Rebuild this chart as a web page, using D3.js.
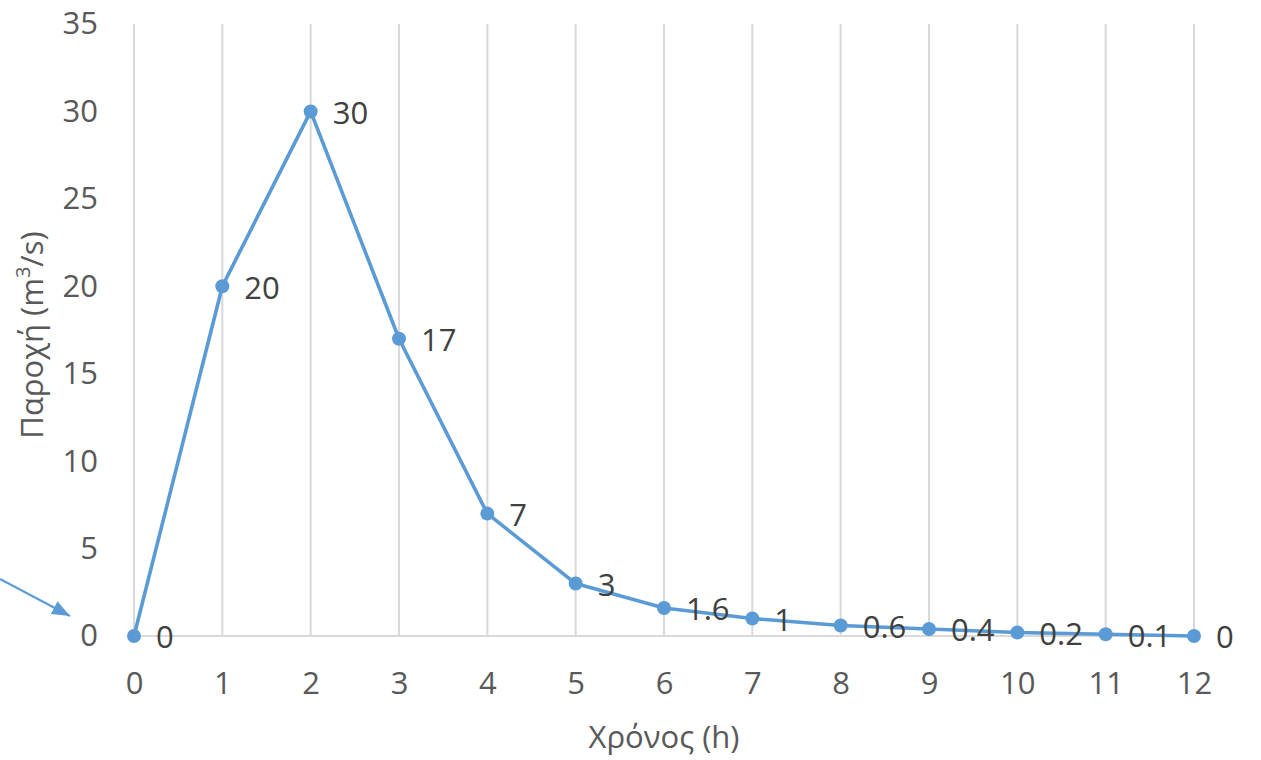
<!DOCTYPE html>
<html>
<head>
<meta charset="utf-8">
<script src="https://cdn.jsdelivr.net/npm/d3@7"></script>
<style>
  html, body { margin: 0; padding: 0; background: #fff; }
  svg text { font-family: "Open Sans", "DejaVu Sans", sans-serif; }
</style>
</head>
<body>
<svg id="chart" width="1261" height="760"></svg>
<script>
// Hydrograph: discharge over time
const hours = [0, 1, 2, 3, 4, 5, 6, 7, 8, 9, 10, 11, 12];
const discharge = [0, 20, 30, 17, 7, 3, 1.6, 1, 0.6, 0.4, 0.2, 0.1, 0];
const yTicks = [0, 5, 10, 15, 20, 25, 30, 35];
const xTitle = "Χρόνος (h)";
const yTitle = "Παροχή (m";

const svg = d3.select("#chart");
const margin = { left: 134, right: 67, top: 24, bottom: 124 };
const W = 1261, H = 760;
const FS = "31px";

const x = d3.scaleLinear().domain([0, 12]).range([margin.left, W - margin.right]);
const y = d3.scaleLinear().domain([0, 35]).range([H - margin.bottom, margin.top]);

const lineColor = "#5B9BD5";
const gridColor = "#D9D9D9";

// vertical gridlines
svg.append("g")
  .selectAll("line")
  .data(hours)
  .join("line")
  .attr("x1", d => x(d)).attr("x2", d => x(d))
  .attr("y1", y(35)).attr("y2", y(0))
  .attr("stroke", gridColor).attr("stroke-width", 2);

// baseline
svg.append("line")
  .attr("x1", x(0)).attr("x2", x(12))
  .attr("y1", y(0)).attr("y2", y(0))
  .attr("stroke", gridColor).attr("stroke-width", 2);

// x axis labels
const xAxis = d3.axisBottom(x).tickValues(hours).tickFormat(d3.format("d")).tickSize(0).tickPadding(36);
const gx = svg.append("g").attr("transform", `translate(0,${y(0)})`).call(xAxis);
gx.select(".domain").remove();
gx.selectAll("text").attr("fill", "#595959").style("font-size", FS)
  .style("font-family", '"Open Sans", sans-serif');

// y axis labels
const yAxis = d3.axisLeft(y).tickValues(yTicks).tickFormat(d3.format("d")).tickSize(0).tickPadding(36);
const gy = svg.append("g").attr("transform", `translate(${x(0)},0)`).call(yAxis);
gy.select(".domain").remove();
gy.selectAll("text").attr("fill", "#595959").style("font-size", FS)
  .style("font-family", '"Open Sans", sans-serif');

// data line
const pts = hours.map((h, i) => ({ h, v: discharge[i] }));
svg.append("path")
  .datum(pts)
  .attr("fill", "none")
  .attr("stroke", lineColor)
  .attr("stroke-width", 3.6)
  .attr("stroke-linejoin", "round")
  .attr("d", d3.line().x(d => x(d.h)).y(d => y(d.v)));

// markers
svg.append("g")
  .selectAll("circle")
  .data(pts)
  .join("circle")
  .attr("cx", d => x(d.h)).attr("cy", d => y(d.v))
  .attr("r", 7)
  .attr("fill", lineColor);

// value labels to the right of each point
svg.append("g")
  .selectAll("text")
  .data(pts)
  .join("text")
  .attr("x", d => x(d.h) + 22)
  .attr("y", d => y(d.v) + 4)
  .attr("dominant-baseline", "middle")
  .attr("fill", "#404040")
  .style("font-size", FS)
  .text(d => String(d.v));

// axis titles
svg.append("text")
  .attr("x", (x(0) + x(12)) / 2)
  .attr("y", 740)
  .attr("text-anchor", "middle")
  .attr("dominant-baseline", "middle")
  .attr("fill", "#595959")
  .style("font-size", FS)
  .text(xTitle);

const yt = svg.append("text")
  .attr("transform", `translate(35,${(y(0) + y(35)) / 2 + 5}) rotate(-90)`)
  .attr("text-anchor", "middle")
  .attr("dominant-baseline", "middle")
  .attr("fill", "#595959")
  .style("font-size", FS);
yt.append("tspan").text(yTitle);
yt.append("tspan").attr("dy", -10).style("font-size", "20px").text("3");
yt.append("tspan").attr("dy", 10).text("/s)");

// pointer arrow
svg.append("defs").append("marker")
  .attr("id", "arrowhead")
  .attr("viewBox", "0 0 10 8")
  .attr("refX", 10).attr("refY", 4)
  .attr("markerWidth", 9).attr("markerHeight", 7.2)
  .attr("markerUnits", "strokeWidth")
  .attr("orient", "auto")
  .append("path")
  .attr("d", "M0,0 L10,4 L0,8 Z")
  .attr("fill", lineColor);

svg.append("line")
  .attr("x1", 0).attr("y1", 579)
  .attr("x2", 70).attr("y2", 616)
  .attr("stroke", lineColor)
  .attr("stroke-width", 2)
  .attr("marker-end", "url(#arrowhead)");
</script>
</body>
</html>
